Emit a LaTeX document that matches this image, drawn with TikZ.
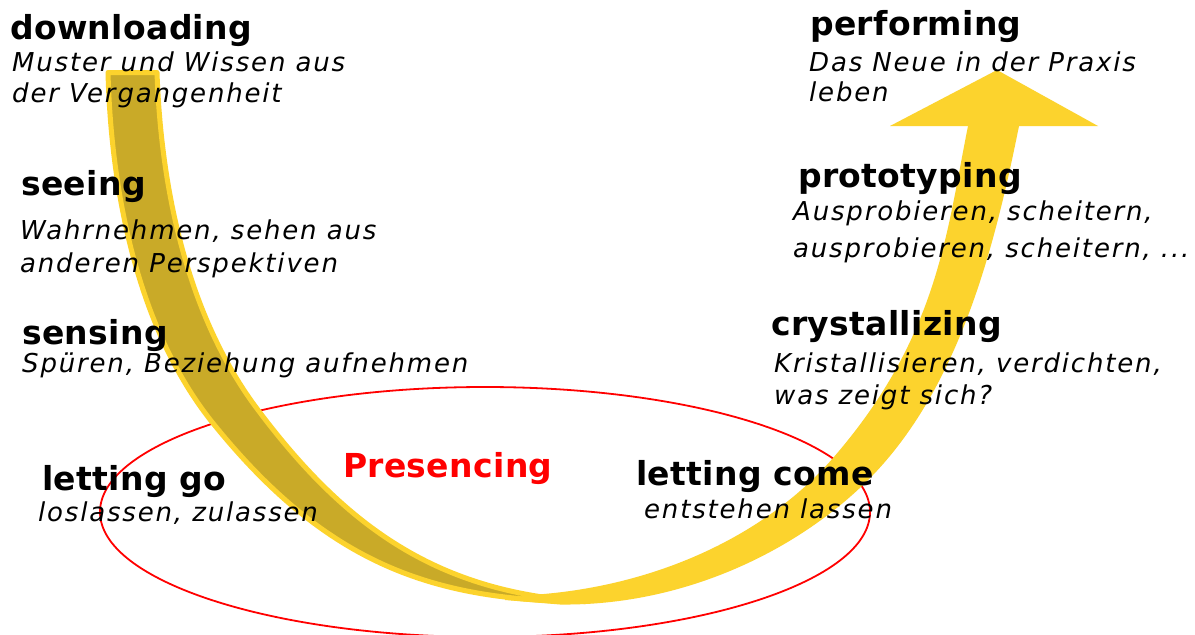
\documentclass[tikz,border=0pt]{standalone}
\usepackage{fontspec}
\setmainfont{DejaVu Sans}
\newfontfamily\bdf[LetterSpace=1]{DejaVu Sans}
\newfontfamily\itf[LetterSpace=7]{DejaVu Sans}
\definecolor{uyellow}{RGB}{252,211,45}
\definecolor{udark}{RGB}{201,170,40}
\tikzset{
  ttl/.style={anchor=base west, inner sep=0pt, font=\bdf\bfseries\fontsize{33}{40}\selectfont},
  sub/.style={anchor=base west, inner sep=0pt, font=\itf\itshape\fontsize{26}{30}\selectfont},
  ring/.style={red, line width=1.8pt},
}
\begin{document}
\begin{tikzpicture}[x=1pt,y=-1pt]
\useasboundingbox[fill=white] (0,0) rectangle (1195,635);
% presencing ellipse
\draw[ring] (485,512) ellipse [x radius=385, y radius=125];
% rising band with arrowhead
\fill[uyellow] (505,596) .. controls (640,594) and (761,541) .. (833,458)
  .. controls (938,337) and (946.4,233.8) .. (968,126) -- (1019,126)
  .. controls (993.5,253) and (956.6,395.3) .. (863,485)
  .. controls (791,554) and (680,606) .. (560,604.5) -- (505,600) -- cycle;
\fill[uyellow] (890,126) -- (997,70) -- (1098,126) -- cycle;
% descending band
\filldraw[fill=udark, draw=uyellow, line width=5pt, line join=round]
  (108,72.5) .. controls (111,190) and (137,328) .. (212,422)
  .. controls (324.5,562) and (430,601) .. (585,601.5)
  .. controls (440,592) and (348,530) .. (258,410)
  .. controls (187,316) and (161,188) .. (157,72.5) -- cycle;
% texts
\node[ttl] (downloading) at (10,39) {downloading};
\node[sub] (downA) at (12,71) {Muster und Wissen aus};
\node[sub] (downB) at (12,102) {der Vergangenheit};
\node[ttl] (seeing) at (21,195) {seeing};
\node[sub] (seeA) at (20,239) {Wahrnehmen, sehen aus};
\node[sub] (seeB) at (20,272) {anderen Perspektiven};
\node[ttl] (sensing) at (22,344) {sensing};
\node[sub] (senseA) at (22,372) {Spüren, Beziehung aufnehmen};
\node[ttl] (lettinggo) at (42,490) {letting go};
\node[sub] (goA) at (38,521) {loslassen, zulassen};
\node[ttl, text=red] (presencing) at (343,477) {Presencing};
\node[ttl] (lettingcome) at (636,485) {letting come};
\node[sub] (comeA) at (644,518) {entstehen lassen};
\node[ttl] (crystallizing) at (771,335) {crystallizing};
\node[sub] (crystA) at (774,372) {Kristallisieren, verdichten,};
\node[sub] (crystB) at (774,404) {was zeigt sich?};
\node[ttl] (prototyping) at (798,187) {prototyping};
\node[sub] (protoA) at (793,220) {Ausprobieren, scheitern,};
\node[sub] (protoB) at (793,257) {ausprobieren, scheitern, ...};
\node[ttl] (performing) at (810,35) {performing};
\node[sub] (perfA) at (809,71) {Das Neue in der Praxis};
\node[sub] (perfB) at (809,101) {leben};
\end{tikzpicture}
\end{document}
